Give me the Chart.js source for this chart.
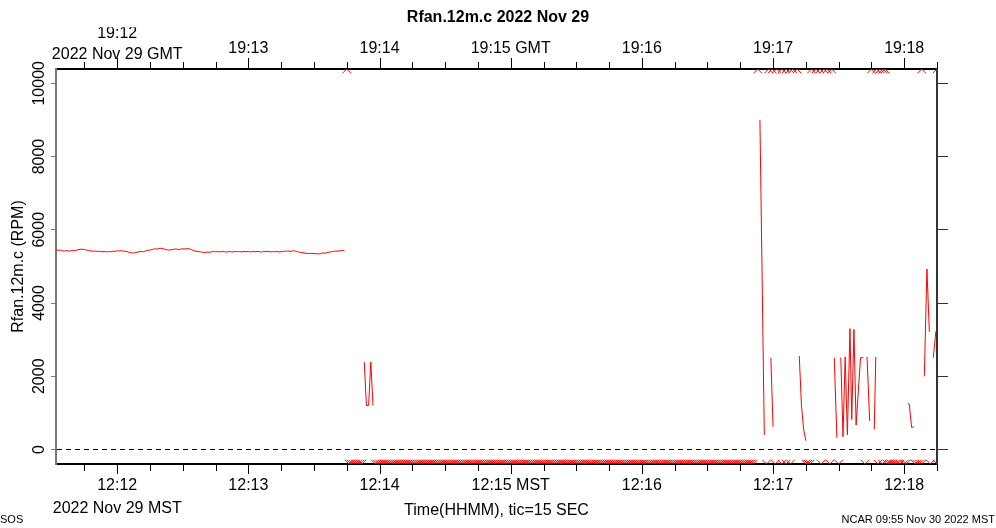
<!DOCTYPE html>
<html>
<head>
<meta charset="utf-8">
<script src="https://cdn.jsdelivr.net/npm/chart.js@4.4.0/dist/chart.umd.min.js"></script>
<style>
html,body{margin:0;padding:0;background:#fff}
#wrap{width:996px;height:528px;position:relative}
</style>
</head>
<body>
<div id="wrap"><canvas id="c"></canvas></div>
<script>
/* Rfan.12m.c fan speed, 2022 Nov 29
   time axis = seconds after 12:12:00 MST (19:12:00 GMT) */

const tMin=-28, tMax=375;
const rpmMin=-396, rpmMax=10390;
const rpmTicks=[0,2000,4000,6000,8000,10000];

// steady running, one sample per second from t=-28 to t=104
const steadyStart=-28;
const steadyRpm=[
  5450,5440,5445,5425,5420,5430,5415,5435,5440,5430,
  5455,5465,5470,5460,5445,5430,5425,5410,5420,5405,
  5415,5400,5410,5395,5405,5400,5415,5410,5425,5420,
  5430,5415,5410,5390,5380,5365,5370,5385,5400,5410,
  5400,5420,5440,5445,5460,5480,5470,5490,5495,5480,
  5465,5450,5445,5455,5470,5475,5460,5470,5480,5475,
  5485,5480,5455,5430,5415,5405,5400,5385,5375,5390,
  5385,5395,5410,5400,5405,5395,5410,5400,5390,5405,
  5400,5395,5410,5400,5405,5395,5410,5400,5410,5395,
  5405,5400,5410,5405,5390,5410,5400,5415,5395,5405,
  5400,5410,5395,5400,5410,5415,5420,5410,5420,5425,
  5410,5395,5380,5375,5360,5355,5350,5355,5345,5350,
  5340,5345,5370,5355,5380,5390,5400,5410,5420,5415,
  5430,5440,5425
];

// short in-range bursts after the stop (null = break in the trace)
const burstSec=[113,114,115,116,117,118,
  294,296,297,
  299,300,301,
  312,313,314,315,316,
  328,329.2,330,
  331,332,333,334,335.2,336,337,338,340,341.3,342,
  343,344.2,345,
  346.3,347,348,
  361.6,362.3,363.4,364.4,365,
  369.2,370.4,371.5,372,
  373.3,374.5];
const burstRpm=[2390,1200,1200,2390,1200,null,
  9000,400,null,
  2500,620,null,
  2550,1200,550,240,null,
  2505,320,null,
  2505,350,2530,400,3300,820,3280,670,2505,2505,null,
  2530,780,null,
  550,2530,null,
  1260,1240,600,620,null,
  2000,4930,3210,null,
  2505,3230];

// samples above the plotted range
const highSec=[105,293,298,299.6,301.6,304,306,307.7,309,311,
  317.6,319.6,321.4,323.2,324.8,326.8,
  345,347.4,349,350.2,351.3,368,375];

// samples below the plotted range: runs of 1 s samples, then single ones
const lowRuns=[[106,112],[118,291]];
const lowSec=[297,301,304,306,308,315,316,317,322,326,330,342,
  348,350,352,353,354,355,356,357,358,360,361,365,366,367,368,372,375];

const mstDate='2022 Nov 29 MST';
const gmtDate='2022 Nov 29 GMT';
const footLeft='SOS';
const footRight='NCAR 09:55 Nov 30 2022 MST';

const FONT="'Liberation Sans', Arial, Helvetica, sans-serif";
Chart.defaults.font.family=FONT;
Chart.defaults.font.size=16;
Chart.defaults.color='#000';

const lowAll=[];
lowRuns.forEach(([a,b])=>{for(let s=a;s<=b;s++)lowAll.push(s);});
lowSec.forEach(s=>lowAll.push(s));

const mm=v=>String(12+v/60).padStart(2,'0');
function mstLabel(v){
  if(v%60)return '';
  if(v===0)return ['12:12',mstDate];
  if(v===180)return '12:15 MST';
  return '12:'+mm(v);
}
function gmtLabel(v){
  if(v%60)return '';
  if(v===0)return ['19:12',''];
  if(v===180)return '19:15 GMT';
  return '19:'+mm(v);
}
const setRpmTicks=s=>{s.ticks=rpmTicks.map(v=>({value:v}));};

const RED='#ff0000';
const markerDs=(pts)=>({data:pts,showLine:false,pointStyle:'crossRot',pointRadius:6,
  pointBorderColor:RED,pointBorderWidth:1,pointBackgroundColor:RED,borderColor:RED,clip:0});

const extras={
  id:'extras',
  afterDraw(chart){
    const ctx=chart.ctx,{x,x2,y}=chart.scales;
    ctx.save();
    ctx.strokeStyle='#000';ctx.lineWidth=1;
    // long ticks each minute, short ticks each 15 s
    x.ticks.forEach(t=>{
      const px=Math.round(x.getPixelForValue(t.value))+0.5,len=t.value%60===0?10:7;
      ctx.beginPath();ctx.moveTo(px,x.top);ctx.lineTo(px,x.top+len);ctx.stroke();
    });
    x2.ticks.forEach(t=>{
      const px=Math.round(x2.getPixelForValue(t.value))+0.5,len=t.value%60===0?11:7;
      ctx.beginPath();ctx.moveTo(px,x2.bottom);ctx.lineTo(px,x2.bottom-len);ctx.stroke();
    });
    ctx.fillStyle='#000';ctx.textAlign='center';ctx.textBaseline='middle';
    ctx.font='16px '+FONT;
    y.ticks.forEach(t=>{
      ctx.save();ctx.translate(40,y.getPixelForValue(t.value));ctx.rotate(-Math.PI/2);
      ctx.fillText(String(t.value),0,0);ctx.restore();
    });
    ctx.fillText(gmtDate,x2.getPixelForValue(0),55);
    ctx.font='11px '+FONT;
    ctx.textAlign='left';ctx.fillText(footLeft,0,520);
    ctx.textAlign='right';ctx.fillText(footRight,995,520);
    ctx.restore();
  }
};

new Chart(document.getElementById('c'),{
  type:'line',
  data:{datasets:[
    {data:steadyRpm.map((v,i)=>({x:steadyStart+i,y:v})),borderColor:RED,borderWidth:1,pointRadius:0,tension:0},
    {data:burstSec.map((s,i)=>({x:s,y:burstRpm[i]})),borderColor:RED,borderWidth:1,pointRadius:0,tension:0,spanGaps:false},
    markerDs(highSec.map(s=>({x:s,y:rpmMax}))),
    markerDs(lowAll.map(s=>({x:s,y:rpmMin})))
  ]},
  options:{
    responsive:true,maintainAspectRatio:false,animation:false,
    layout:{padding:0},
    plugins:{
      legend:{display:false},tooltip:{enabled:false},
      title:{display:true,text:'Rfan.12m.c 2022 Nov 29',color:'#000',
        font:{size:16,weight:'bold'},padding:{top:8,bottom:0}}
    },
    scales:{
      x:{type:'linear',position:'bottom',min:tMin,max:tMax,
        afterFit:s=>{s.height=64;},
        ticks:{stepSize:15,includeBounds:false,autoSkip:false,maxRotation:0,minRotation:0,padding:0,
          font:{size:16,lineHeight:1.44},callback:mstLabel},
        grid:{drawOnChartArea:false,tickLength:10,tickColor:'rgba(0,0,0,0)'},
        border:{color:'#000',width:2},
        title:{display:true,text:'Time(HHMM), tic=15 SEC',font:{size:16},padding:{top:0,bottom:8}}},
      x2:{type:'linear',position:'top',min:tMin,max:tMax,
        afterFit:s=>{s.height=69-27.2;},
        ticks:{stepSize:15,includeBounds:false,autoSkip:false,maxRotation:0,minRotation:0,padding:1.5,
          font:{size:16,lineHeight:0.9375},callback:gmtLabel},
        grid:{drawOnChartArea:false,tickLength:11,tickColor:'rgba(0,0,0,0)'},
        border:{color:'#000',width:2}},
      y:{type:'linear',position:'left',min:rpmMin,max:rpmMax,
        afterFit:s=>{s.width=56;},
        afterBuildTicks:setRpmTicks,
        ticks:{display:false},
        grid:{drawOnChartArea:true,color:c=>(c.tick&&c.tick.value===0)?'#000':'rgba(0,0,0,0)',
          tickColor:'#777',tickLength:5},
        border:{color:'#777',width:2,dash:[5,4]},
        title:{display:true,text:'Rfan.12m.c (RPM)',font:{size:16},padding:{top:9,bottom:0}}},
      y2:{type:'linear',position:'right',min:rpmMin,max:rpmMax,
        afterFit:s=>{s.width=59;},
        afterBuildTicks:setRpmTicks,
        ticks:{display:false},
        grid:{drawOnChartArea:false,tickColor:'#333',tickLength:11},
        border:{color:'#333',width:2}}
    }
  },
  plugins:[extras]
});
</script>
</body>
</html>
